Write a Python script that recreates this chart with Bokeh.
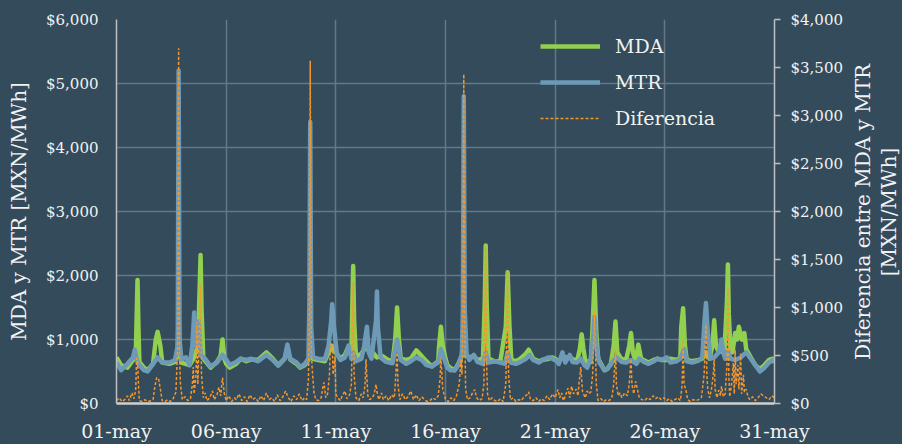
import math
from bokeh.plotting import figure
from bokeh.layouts import row
from bokeh.models import (LinearAxis, Range1d, FixedTicker, NumeralTickFormatter,
                          Legend, LegendItem)
from bokeh.core.properties import value
from bokeh.embed import file_html
from bokeh.resources import INLINE

# ---------------- data (hour of May, value) ----------------
x_tick_hours = [0, 120, 240, 360, 480, 600, 720]
x_tick_labels = ["01-may", "06-may", "11-may", "16-may", "21-may", "26-may", "31-may"]
left_ticks = [0, 1000, 2000, 3000, 4000, 5000, 6000]
right_ticks = [0, 500, 1000, 1500, 2000, 2500, 3000, 3500, 4000]
right_title_lines = ["Diferencia entre MDA y MTR", "[MXN/MWh]"]

mda = [(0, 720), (5, 600), (12, 560), (18, 680), (21, 700), (22, 1300), (23, 1930), (24, 1200),
       (25, 650), (30, 560), (34, 520), (40, 620), (43, 1000), (45, 1120), (48, 900), (50, 640),
       (58, 620), (64, 650), (67, 800), (68, 1500), (69, 800), (71, 640), (80, 600), (85, 720),
       (89, 900), (91, 1800), (92, 2320), (93, 1500), (95, 700), (103, 560), (110, 650),
       (114, 750), (116, 1000), (118, 700), (120, 620), (124, 560), (131, 620), (136, 700),
       (142, 660), (147, 690), (155, 680), (164, 800), (171, 700), (177, 600), (184, 700),
       (187, 880), (190, 690), (197, 620), (201, 560), (206, 600), (210, 680), (212, 830),
       (215, 700), (221, 680), (228, 660), (232, 800), (236, 900), (238, 820), (241, 780),
       (245, 700), (250, 760), (254, 900), (257, 740), (258, 1500), (259, 2150), (260, 1300),
       (262, 730), (268, 780), (271, 850), (274, 850), (279, 820), (285, 720), (291, 740),
       (295, 700), (302, 650), (305, 1000), (307, 1500), (309, 1000), (311, 700), (317, 680),
       (322, 700), (328, 830), (334, 740), (339, 660), (345, 580), (352, 660), (353, 900),
       (355, 1200), (357, 900), (360, 700), (362, 600), (365, 560), (370, 520), (374, 620),
       (378, 750), (380, 1400), (382, 760), (386, 720), (391, 740), (395, 680), (401, 700),
       (403, 1600), (404, 2470), (405, 1600), (407, 700), (414, 660), (420, 660), (426, 1200),
       (428, 2050), (430, 1200), (432, 680), (437, 660), (442, 700), (448, 780), (451, 840),
       (456, 700), (462, 660), (466, 680), (473, 700), (477, 720), (482, 680), (484, 660),
       (488, 720), (496, 720), (504, 660), (507, 850), (509, 1080), (511, 850), (513, 660),
       (519, 650), (521, 1200), (523, 1930), (525, 1100), (527, 700), (534, 520), (537, 540),
       (541, 620), (544, 900), (546, 1280), (548, 800), (553, 680), (558, 700), (561, 900),
       (563, 1100), (565, 800), (568, 660), (571, 920), (574, 700), (582, 640), (588, 680),
       (592, 700), (596, 680), (602, 680), (606, 700), (613, 680), (617, 720), (618, 1200),
       (620, 1490), (622, 900), (624, 680), (630, 660), (637, 680), (641, 700), (645, 800),
       (649, 700), (652, 900), (654, 1300), (656, 900), (659, 800), (662, 850), (665, 760),
       (668, 1600), (669, 2170), (670, 1400), (672, 800), (674, 800), (677, 1100), (679, 1000),
       (681, 1200), (684, 1000), (687, 1100), (689, 850), (694, 720), (699, 600), (704, 540),
       (709, 600), (714, 680), (718, 700), (720, 660)]

mtr = [(0, 640), (5, 520), (12, 620), (18, 720), (20, 840), (22, 700), (24, 620), (30, 520),
       (34, 500), (40, 620), (45, 720), (50, 640), (58, 640), (64, 680), (67, 900), (68, 5200),
       (69, 1000), (71, 690), (76, 720), (80, 600), (83, 900), (85, 1420), (87, 900), (89, 1000),
       (90, 1280), (92, 760), (97, 700), (103, 580), (110, 640), (116, 760), (120, 690),
       (124, 600), (131, 650), (136, 700), (142, 680), (147, 700), (155, 660), (164, 760),
       (171, 680), (177, 590), (184, 700), (187, 920), (190, 700), (197, 640), (201, 570),
       (206, 620), (210, 700), (211, 1500), (212, 4400), (213, 1200), (215, 720), (221, 700),
       (228, 690), (232, 900), (235, 1300), (236, 1550), (238, 1200), (241, 790), (245, 680),
       (250, 720), (254, 900), (257, 700), (259, 800), (262, 660), (268, 700), (271, 900),
       (274, 1200), (276, 800), (279, 700), (284, 1300), (285, 1750), (286, 1200), (289, 720),
       (295, 650), (302, 630), (307, 1000), (311, 680), (317, 620), (322, 660), (328, 720),
       (334, 680), (339, 600), (345, 580), (352, 640), (355, 850), (360, 640), (362, 560),
       (365, 520), (370, 520), (374, 600), (378, 780), (379, 1500), (380, 4800), (381, 1500),
       (383, 780), (386, 680), (391, 760), (395, 650), (401, 620), (404, 800), (407, 640),
       (414, 660), (420, 640), (425, 620), (428, 800), (431, 640), (437, 620), (442, 650),
       (448, 700), (452, 760), (456, 680), (462, 640), (466, 680), (473, 720), (477, 700),
       (482, 660), (484, 620), (488, 800), (491, 640), (496, 760), (499, 650), (504, 640),
       (508, 700), (512, 600), (515, 560), (519, 700), (522, 1100), (523, 1350), (525, 900),
       (528, 650), (534, 520), (537, 540), (541, 620), (547, 720), (553, 650), (558, 640),
       (563, 680), (569, 620), (572, 700), (577, 650), (582, 620), (588, 660), (592, 700),
       (596, 680), (602, 720), (606, 640), (613, 660), (617, 700), (621, 850), (624, 660),
       (630, 640), (637, 670), (641, 720), (643, 1200), (645, 1570), (647, 1100), (650, 700),
       (654, 720), (659, 800), (662, 1000), (664, 820), (666, 700), (669, 820), (672, 700),
       (677, 680), (683, 720), (689, 800), (694, 700), (699, 600), (704, 500), (709, 560),
       (714, 640), (718, 680), (720, 640)]

diferencia = [(0, 30), (3, 60), (6, 20), (9, 40), (12, 80), (14, 30), (17, 110), (19, 50),
              (21, 140), (22, 470), (23, 470), (24, 200), (25, 30), (28, 20), (31, 40), (34, 20),
              (38, 30), (40, 40), (42, 180), (44, 270), (46, 260), (48, 150), (50, 30), (53, 20),
              (56, 40), (59, 20), (62, 50), (65, 120), (67, 600), (68, 3700), (69, 500), (70, 200),
              (72, 40), (75, 70), (78, 30), (81, 50), (83, 200), (84, 380), (85, 100), (87, 300),
              (88, 850), (89, 200), (90, 500), (91, 900), (92, 1240), (93, 300), (95, 60), (97, 110),
              (99, 30), (102, 60), (105, 130), (107, 40), (110, 90), (112, 170), (114, 80),
              (116, 270), (118, 100), (120, 30), (123, 80), (126, 20), (129, 60), (131, 40),
              (134, 100), (137, 30), (140, 70), (143, 20), (146, 90), (149, 40), (152, 60),
              (155, 20), (158, 80), (161, 30), (164, 110), (167, 40), (170, 60), (173, 20),
              (176, 90), (179, 30), (182, 70), (185, 130), (188, 60), (191, 20), (194, 80),
              (197, 40), (200, 100), (203, 30), (206, 60), (208, 40), (210, 250), (211, 900),
              (212, 3570), (213, 600), (214, 380), (216, 120), (218, 40), (221, 30), (224, 60),
              (226, 180), (227, 220), (229, 60), (231, 100), (233, 300), (234, 620), (236, 620),
              (237, 300), (239, 490), (240, 100), (242, 60), (245, 30), (247, 80), (250, 130),
              (252, 50), (255, 90), (257, 200), (259, 1270), (260, 300), (262, 60), (265, 30),
              (268, 100), (270, 60), (272, 200), (273, 460), (275, 80), (277, 40), (280, 60),
              (282, 100), (284, 200), (285, 120), (287, 40), (290, 110), (292, 40), (295, 80),
              (298, 30), (301, 90), (304, 60), (305, 200), (307, 530), (308, 200), (310, 40),
              (313, 100), (316, 40), (319, 70), (322, 130), (325, 40), (328, 90), (331, 30),
              (334, 70), (337, 40), (340, 20), (343, 30), (346, 60), (349, 40), (352, 80),
              (354, 250), (355, 480), (357, 150), (360, 40), (363, 20), (366, 60), (369, 30),
              (372, 80), (375, 200), (377, 460), (378, 300), (379, 1000), (380, 3430), (381, 900),
              (382, 150), (384, 40), (387, 60), (390, 120), (392, 145), (394, 60), (397, 30),
              (400, 50), (402, 200), (404, 1630), (405, 400), (406, 100), (408, 30), (411, 60),
              (414, 30), (417, 20), (420, 50), (423, 20), (426, 200), (428, 1370), (429, 300),
              (431, 40), (434, 60), (437, 20), (440, 40), (443, 30), (446, 70), (449, 90),
              (451, 120), (453, 40), (456, 30), (459, 60), (462, 20), (465, 50), (468, 30),
              (471, 80), (474, 40), (477, 100), (480, 60), (483, 145), (485, 60), (487, 110),
              (489, 30), (492, 100), (494, 160), (496, 60), (498, 180), (500, 100), (503, 150),
              (505, 80), (506, 200), (508, 380), (510, 120), (513, 60), (515, 130), (517, 100),
              (519, 120), (521, 300), (523, 960), (524, 600), (525, 200), (527, 30), (530, 50),
              (533, 20), (536, 40), (539, 30), (542, 60), (544, 200), (546, 560), (547, 200),
              (549, 80), (551, 110), (553, 60), (556, 110), (559, 80), (561, 200), (563, 460),
              (564, 200), (566, 100), (568, 230), (570, 150), (572, 60), (575, 40), (578, 30),
              (581, 60), (584, 40), (587, 80), (590, 50), (593, 70), (596, 40), (599, 60),
              (602, 30), (605, 50), (608, 20), (611, 40), (614, 60), (617, 30), (619, 200),
              (620, 665), (621, 200), (623, 145), (625, 40), (628, 20), (631, 40), (634, 30),
              (637, 40), (640, 60), (643, 300), (645, 820), (646, 300), (647, 145), (649, 60),
              (651, 150), (653, 300), (654, 460), (655, 150), (657, 60), (659, 140), (661, 80),
              (662, 180), (664, 70), (666, 100), (668, 400), (669, 1215), (670, 300), (671, 70),
              (673, 200), (675, 420), (676, 100), (677, 560), (678, 200), (680, 400), (681, 150),
              (683, 520), (684, 100), (686, 300), (687, 120), (689, 150), (691, 70), (693, 40),
              (696, 70), (699, 30), (702, 60), (705, 100), (708, 80), (711, 60), (714, 40),
              (717, 80), (720, 60)]

# ---------------- styling ----------------
BG = "#334B5B"
TXT = "#F2F2F2"
FONT = "DejaVu Serif"
GRID = "#647987"
AXIS = "#BFBFBF"

p = figure(width=850, height=444, output_backend="svg", toolbar_location=None,
           x_range=Range1d(0, 720), y_range=Range1d(0, 6000),
           min_border_left=116, min_border_right=76, min_border_top=19, min_border_bottom=40,
           background_fill_color=BG, border_fill_color=BG)
p.outline_line_color = None
p.extra_y_ranges = {"dif": Range1d(0, 4000)}

mda_h, mda_v = zip(*mda)
mtr_h, mtr_v = zip(*mtr)
dif_h, dif_v = zip(*diferencia)

r_mda = p.line(list(mda_h), list(mda_v), line_color="#92D050", line_width=4.5, line_join="round")
r_mtr = p.line(list(mtr_h), list(mtr_v), line_color="#6C9AB7", line_width=4.5, line_join="round")
r_dif = p.line(list(dif_h), list(dif_v), line_color="#F7962B", line_width=1.5,
               line_dash="3 2", y_range_name="dif")

# axes
xax = p.xaxis[0]
xax.ticker = FixedTicker(ticks=x_tick_hours)
xax.major_label_overrides = {h: lab for h, lab in zip(x_tick_hours, x_tick_labels)}
xax.major_tick_out = 0
xax.major_tick_in = 0
xax.minor_tick_line_color = None
xax.axis_line_color = "#D0D0D0"
xax.axis_line_width = 2.5
xax.major_label_standoff = 16
xax.major_label_text_font = FONT
xax.major_label_text_font_size = "19px"
xax.major_label_text_color = TXT

yax = p.yaxis[0]
yax.ticker = FixedTicker(ticks=left_ticks)
yax.formatter = NumeralTickFormatter(format="$0,0")
yax.major_tick_out = 0
yax.major_tick_in = 0
yax.minor_tick_line_color = None
yax.axis_line_color = AXIS
yax.axis_line_width = 1.5
yax.major_label_standoff = 18
yax.major_label_text_font = FONT
yax.major_label_text_font_size = "15px"
yax.major_label_text_color = TXT
yax.axis_label = "MDA y MTR [MXN/MWh]"
yax.axis_label_text_font = FONT
yax.axis_label_text_font_size = "20px"
yax.axis_label_text_font_style = "normal"
yax.axis_label_text_color = TXT
yax.axis_label_standoff = 12

rax = LinearAxis(y_range_name="dif")
rax.ticker = FixedTicker(ticks=right_ticks)
rax.formatter = NumeralTickFormatter(format="$0,0")
rax.major_tick_out = 6
rax.major_tick_in = 0
rax.major_tick_line_color = AXIS
rax.major_tick_line_width = 1.5
rax.minor_tick_line_color = None
rax.axis_line_color = AXIS
rax.axis_line_width = 1.5
rax.major_label_standoff = 10
rax.major_label_text_font = FONT
rax.major_label_text_font_size = "15px"
rax.major_label_text_color = TXT
p.add_layout(rax, "right")

# grid
p.xgrid.ticker = FixedTicker(ticks=x_tick_hours)
p.ygrid.ticker = FixedTicker(ticks=left_ticks)
for g in (p.xgrid[0], p.ygrid[0]):
    g.grid_line_color = GRID
    g.grid_line_width = 1.5

legend = Legend(items=[LegendItem(label="MDA", renderers=[r_mda]),
                       LegendItem(label="MTR", renderers=[r_mtr]),
                       LegendItem(label="Diferencia", renderers=[r_dif])],
                location=(424, 267))
legend.background_fill_alpha = 0
legend.border_line_color = None
legend.label_text_font = FONT
legend.label_text_font_size = "19px"
legend.label_text_color = TXT
legend.glyph_width = 60
legend.glyph_height = 36
legend.label_height = 36
legend.spacing = 0
legend.padding = 0
legend.margin = 0
legend.label_standoff = 15
p.add_layout(legend)

# right-hand axis title (two lines reading bottom-to-top) in a narrow, fully
# transparent strip figure; the row container supplies the background colour
t = figure(width=52, height=444, output_backend="svg", toolbar_location=None,
           x_range=Range1d(0, 52), y_range=Range1d(0, 385),
           min_border_left=0, min_border_right=0, min_border_top=19, min_border_bottom=40)
t.background_fill_alpha = 0
t.border_fill_alpha = 0
t.outline_line_color = None
t.axis.visible = False
t.grid.visible = False
t.text(x=[12, 38], y=[192, 192], text=right_title_lines, angle=math.pi / 2,
       text_align="center", text_baseline="middle", text_font=value(FONT),
       text_font_size="20px", text_color=TXT)

layout = row(p, t, spacing=0, styles={"background-color": BG})
open("out.html", "w").write(file_html(layout, INLINE))
